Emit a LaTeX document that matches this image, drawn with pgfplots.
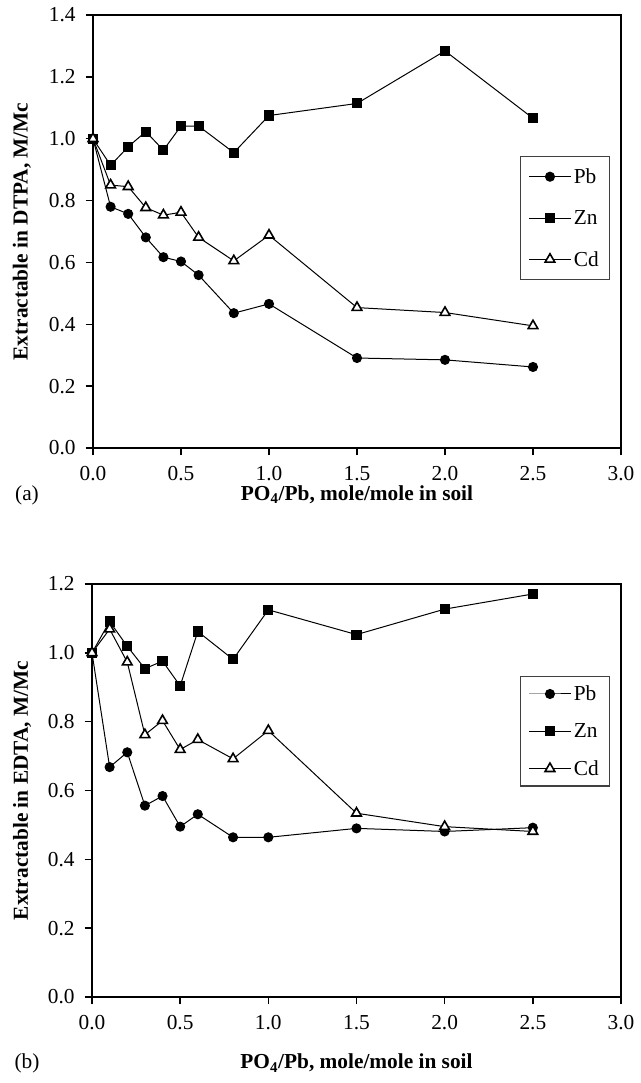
\documentclass[border=0pt]{standalone}
\usepackage{fontspec}
\setmainfont{Liberation Serif}
\usepackage{pgfplots}
\pgfplotsset{compat=1.18}

\pgfplotsset{
  panel/.style={
    scale only axis, anchor=south west,
    xmin=0, xmax=3, xtick={0,0.5,1,1.5,2,2.5,3},
    ymin=0,
    axis line style={line width=1.3pt},
    tick style={line width=1.1pt, black},
    tick align=outside, major tick length=5.5pt,
    xtick pos=bottom, ytick pos=left,
    ticklabel style={font=\fontsize{16}{18}\selectfont},
    xticklabel style={yshift=-4.5pt},
    yticklabel style={xshift=-4pt},
    /pgf/number format/fixed, /pgf/number format/fixed zerofill,
    /pgf/number format/precision=1, /pgf/number format/assume math mode=true,
    label style={font=\bfseries\fontsize{16}{18}\selectfont},
    xlabel={PO\textsubscript{4}/Pb, mole/mole in soil},
    legend cell align=left,
    legend style={draw=black!75, line width=0.8pt, font=\fontsize{16}{18}\selectfont,
      anchor=north east, inner xsep=6pt, inner ysep=7pt, row sep=15pt,
      nodes={inner sep=2pt, text height=11pt, text depth=1pt}},
    legend image code/.code={\draw[mark repeat=2,mark phase=2,#1]
      plot coordinates {(0pt,0pt) (15.5pt,0pt) (31pt,0pt)};},
  },
  pb/.style={black, line width=0.75pt, mark=*, mark size=3.4pt},
  zn/.style={black, line width=0.75pt, mark=square*, mark size=3.4pt},
  cd/.style={black, line width=0.75pt, mark=triangle*, mark size=4.2pt,
    mark options={fill=white, line width=1.2pt}},
}

\begin{document}
\begin{tikzpicture}
\useasboundingbox (0pt,0pt) rectangle (480pt,-812.25pt);

% (a) DTPA
\begin{axis}[panel, at={(69.75pt,-336pt)}, width=396pt, height=324.75pt,
  ymax=1.4, ytick={0,0.2,...,1.4},
  ylabel={Extractable in DTPA, M/Mc},
  ylabel style={at={(axis description cs:-0.1345,0.5)}, anchor=center},
  xlabel style={at={(axis description cs:0.5,-0.108)}, anchor=center},
  legend style={at={(0.979,0.674)}},
]
\addplot[pb] coordinates {(0,1.0) (0.1,0.780) (0.2,0.757) (0.3,0.681) (0.4,0.617) (0.5,0.603)
  (0.6,0.559) (0.8,0.436) (1.0,0.466) (1.5,0.291) (2.0,0.285) (2.5,0.262)};
\addplot[zn] coordinates {(0,1.0) (0.1,0.914) (0.2,0.974) (0.3,1.023) (0.4,0.963) (0.5,1.041)
  (0.6,1.041) (0.8,0.955) (1.0,1.075) (1.5,1.114) (2.0,1.284) (2.5,1.066)};
\addplot[cd] coordinates {(0,1.0) (0.1,0.850) (0.2,0.845) (0.3,0.777) (0.4,0.753) (0.5,0.762)
  (0.6,0.681) (0.8,0.605) (1.0,0.688) (1.5,0.454) (2.0,0.438) (2.5,0.395)};
\legend{Pb,Zn,Cd}
\end{axis}
\node[font=\fontsize{16}{18}\selectfont] at (20.25pt,-371.25pt) {(a)};

% (b) EDTA
\begin{axis}[panel, at={(69pt,-747.75pt)}, width=396.75pt, height=309.75pt,
  ymax=1.2, ytick={0,0.2,...,1.2},
  ylabel={Extractable in EDTA, M/Mc},
  ylabel style={at={(axis description cs:-0.132,0.5)}, anchor=center},
  xlabel style={at={(axis description cs:0.5,-0.16)}, anchor=center},
  legend style={at={(0.979,0.777)}, row sep=12pt, inner ysep=5pt},
]
\addplot[pb] coordinates {(0,1.0) (0.1,0.668) (0.2,0.711) (0.3,0.556) (0.4,0.584) (0.5,0.495)
  (0.6,0.531) (0.8,0.464) (1.0,0.464) (1.5,0.490) (2.0,0.481) (2.5,0.492)};
\addplot[zn] coordinates {(0,1.0) (0.1,1.091) (0.2,1.019) (0.3,0.954) (0.4,0.976) (0.5,0.904)
  (0.6,1.062) (0.8,0.981) (1.0,1.125) (1.5,1.053) (2.0,1.127) (2.5,1.171)};
\addplot[cd] coordinates {(0,1.0) (0.1,1.069) (0.2,0.973) (0.3,0.762) (0.4,0.803) (0.5,0.719)
  (0.6,0.748) (0.8,0.692) (1.0,0.774) (1.5,0.534) (2.0,0.495) (2.5,0.481)};
\legend{Pb,Zn,Cd}
\end{axis}
\node[font=\fontsize{16}{18}\selectfont] at (20.25pt,-797.25pt) {(b)};
\end{tikzpicture}
\end{document}
